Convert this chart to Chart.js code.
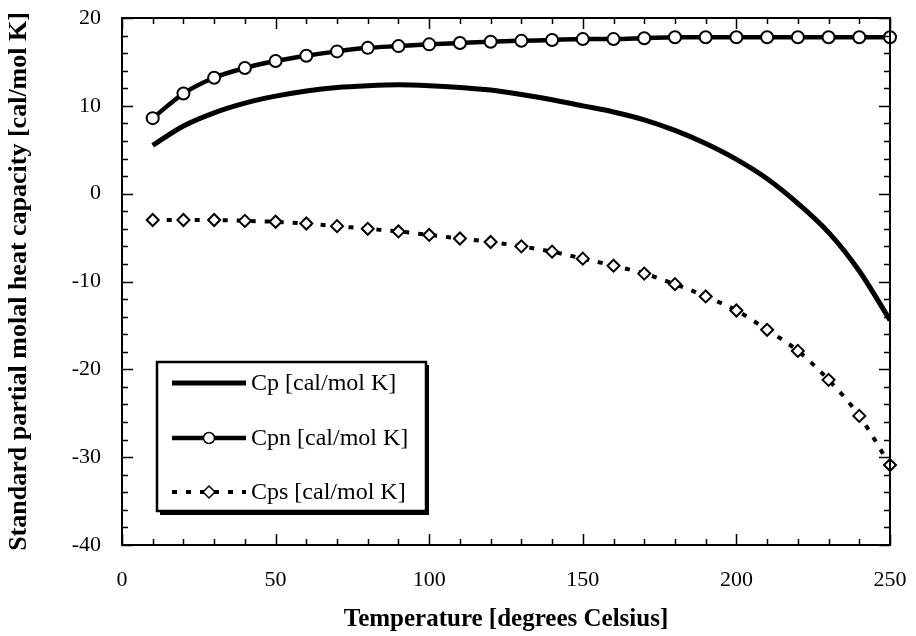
<!DOCTYPE html>
<html>
<head>
<meta charset="utf-8">
<script src="https://cdn.jsdelivr.net/npm/chart.js@4"></script>
<style>
  html, body { margin: 0; padding: 0; background: #fff; }
  #wrap { width: 916px; height: 636px; position: relative; }
</style>
</head>
<body>
<div id="wrap"><canvas id="c" width="916" height="636"></canvas></div>
<script>
const temperatures = [10, 20, 30, 40, 50, 60, 70, 80, 90, 100, 110, 120, 130, 140, 150, 160, 170, 180, 190, 200, 210, 220, 230, 240, 250];
const cpValues  = [5.5, 7.7, 9.2, 10.3, 11.1, 11.7, 12.1, 12.3, 12.4, 12.3, 12.1, 11.8, 11.3, 10.7, 10.0, 9.3, 8.4, 7.2, 5.7, 3.9, 1.7, -1.1, -4.4, -8.8, -14.4];
const cpnValues = [8.6, 11.4, 13.2, 14.3, 15.1, 15.7, 16.2, 16.6, 16.8, 17.0, 17.15, 17.3, 17.4, 17.5, 17.6, 17.6, 17.7, 17.8, 17.8, 17.8, 17.8, 17.8, 17.8, 17.8, 17.8];
const cpsValues = [-3.0, -3.0, -3.0, -3.1, -3.2, -3.4, -3.7, -4.0, -4.3, -4.7, -5.1, -5.5, -6.0, -6.6, -7.4, -8.2, -9.1, -10.3, -11.7, -13.3, -15.5, -17.9, -21.2, -25.3, -30.9];
const seriesLabels = ['Cp [cal/mol K]', 'Cpn [cal/mol K]', 'Cps [cal/mol K]'];
const xTitle = 'Temperature [degrees Celsius]';
const yTitle = 'Standard partial molal heat capacity [cal/mol K]';

const SERIF = '"Liberation Serif", "Times New Roman", serif';

function pts(vals) { return temperatures.map((t, i) => ({ x: t, y: vals[i] })); }

const frameAndTicks = {
  id: 'frameAndTicks',
  afterDatasetsDraw(chart) {
    const { ctx, chartArea: a, scales: { x, y } } = chart;
    ctx.save();
    ctx.strokeStyle = '#000';
    ctx.lineWidth = 1.5;
    for (let v = 0; v <= 250; v += 10) {
      const px = Math.round(x.getPixelForValue(v)) + 0.5;
      const len = (v % 50 === 0) ? 11 : 6;
      ctx.beginPath();
      ctx.moveTo(px, a.bottom); ctx.lineTo(px, a.bottom - len);
      ctx.moveTo(px, a.top); ctx.lineTo(px, a.top + len);
      ctx.stroke();
    }
    for (let v = -40; v <= 20; v += 2) {
      const py = Math.round(y.getPixelForValue(v)) + 0.5;
      const len = (v % 10 === 0) ? 11 : 6;
      ctx.beginPath();
      ctx.moveTo(a.left, py); ctx.lineTo(a.left + len, py);
      ctx.moveTo(a.right, py); ctx.lineTo(a.right - len, py);
      ctx.stroke();
    }
    ctx.lineWidth = 2;
    ctx.strokeRect(a.left, a.top, a.right - a.left, a.bottom - a.top);
    ctx.restore();
  }
};

const boxLegend = {
  id: 'boxLegend',
  afterDraw(chart) {
    const { ctx } = chart;
    const bx = 157, by = 362, bw = 269, bh = 149;
    ctx.save();
    ctx.fillStyle = '#000';
    ctx.fillRect(bx + 3, by + 3, bw, bh + 1);
    ctx.fillStyle = '#fff';
    ctx.fillRect(bx, by, bw, bh);
    ctx.strokeStyle = '#000';
    ctx.lineWidth = 2.5;
    ctx.strokeRect(bx, by, bw, bh);
    const rows = [383, 438, 492];
    chart.data.datasets.forEach((ds, i) => {
      const yy = rows[i];
      ctx.save();
      ctx.strokeStyle = ds.borderColor;
      ctx.lineWidth = ds.borderWidth;
      ctx.setLineDash(ds.borderDash || []);
      ctx.beginPath();
      ctx.moveTo(172, yy); ctx.lineTo(246, yy);
      ctx.stroke();
      ctx.restore();
      if (ds.pointRadius > 0) {
        ctx.save();
        ctx.fillStyle = '#fff';
        ctx.strokeStyle = '#000';
        ctx.lineWidth = 1.5;
        if (ds.pointStyle === 'rectRot') {
          ctx.beginPath();
          ctx.moveTo(209, yy - 6); ctx.lineTo(215, yy); ctx.lineTo(209, yy + 6); ctx.lineTo(203, yy); ctx.closePath();
        } else {
          ctx.beginPath(); ctx.arc(209, yy, 5.5, 0, Math.PI * 2);
        }
        ctx.fill(); ctx.stroke();
        ctx.restore();
      }
      ctx.fillStyle = '#000';
      ctx.font = '24px ' + SERIF;
      ctx.textBaseline = 'middle';
      ctx.textAlign = 'left';
      ctx.fillText(ds.label, 251, yy + 1);
    });
    ctx.restore();
  }
};

new Chart(document.getElementById('c'), {
  type: 'line',
  data: {
    datasets: [
      { label: seriesLabels[0], data: pts(cpValues), borderColor: '#000', borderWidth: 5, pointRadius: 0, cubicInterpolationMode: 'monotone', fill: false },
      { label: seriesLabels[1], data: pts(cpnValues), borderColor: '#000', borderWidth: 4.5, pointRadius: 6, pointStyle: 'circle', pointBackgroundColor: '#fff', pointBorderColor: '#000', pointBorderWidth: 2, cubicInterpolationMode: 'monotone', clip: false, fill: false },
      { label: seriesLabels[2], data: pts(cpsValues), borderColor: '#000', borderWidth: 4, borderDash: [5, 9], pointRadius: 6, pointStyle: 'rectRot', pointBackgroundColor: '#fff', pointBorderColor: '#000', pointBorderWidth: 2, cubicInterpolationMode: 'monotone', clip: false, fill: false }
    ]
  },
  options: {
    responsive: false,
    animation: false,
    layout: { padding: { top: 18, right: 26, left: 0, bottom: 0 } },
    plugins: { legend: { display: false }, tooltip: { enabled: false } },
    scales: {
      x: {
        type: 'linear', min: 0, max: 250,
        grid: { display: false, drawTicks: false },
        border: { display: false },
        ticks: { stepSize: 50, color: '#000', padding: 22, font: { family: SERIF, size: 22 } },
        title: { display: true, text: xTitle, color: '#000', padding: { top: 0, bottom: 1 }, font: { family: SERIF, size: 25, weight: 'bold' } },
        afterFit(s) { s.height = 91; s.paddingLeft = 0; s.paddingRight = 0; s.paddingTop = 0; s.paddingBottom = 0; }
      },
      y: {
        type: 'linear', min: -40, max: 20,
        grid: { display: false, drawTicks: false },
        border: { display: false },
        ticks: { stepSize: 10, color: '#000', padding: 21, font: { family: SERIF, size: 22 } },
        title: { display: true, text: yTitle, color: '#000', padding: { top: 4, bottom: 0 }, font: { family: SERIF, size: 26, weight: 'bold' } },
        afterFit(s) { s.width = 122; s.paddingLeft = 0; s.paddingRight = 0; s.paddingTop = 0; s.paddingBottom = 0; }
      }
    }
  },
  plugins: [frameAndTicks, boxLegend]
});
</script>
</body>
</html>
